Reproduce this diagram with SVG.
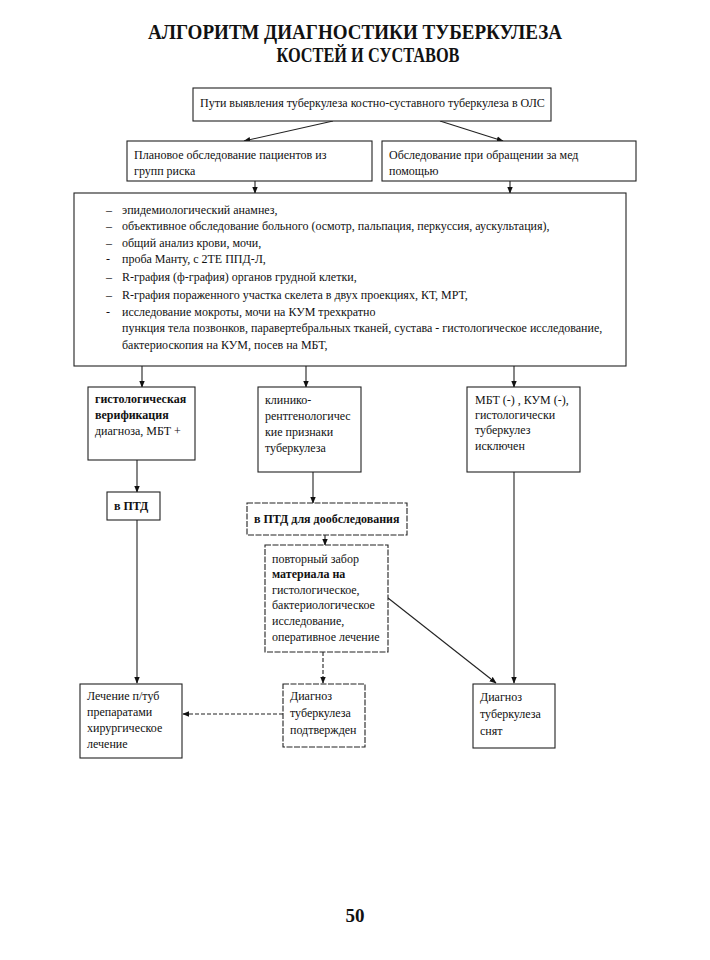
<svg xmlns="http://www.w3.org/2000/svg" width="710" height="960" viewBox="0 0 710 960">
<defs>
<marker id="ah" viewBox="0 0 10 10" refX="9" refY="5" markerWidth="7" markerHeight="7" orient="auto" markerUnits="userSpaceOnUse">
<path d="M0,1 L10,5 L0,9 z" fill="#111"/>
</marker>
</defs>
<style>
.bx{fill:#fff;stroke:#222;stroke-width:1.1}
.dbx{fill:#fff;stroke:#222;stroke-width:1.1;stroke-dasharray:6 1.5}
.t{font-family:"Liberation Serif","Times New Roman",serif;font-size:12px;fill:#111}
.tb{font-family:"Liberation Serif","Times New Roman",serif;font-size:12px;fill:#111;font-weight:bold}
.ttl{font-family:"Liberation Serif","Times New Roman",serif;font-size:20px;font-weight:bold;fill:#111}
.ln{stroke:#222;stroke-width:1.1;fill:none}
.dln{stroke:#222;stroke-width:1.1;fill:none;stroke-dasharray:4 2}
</style>
<rect width="710" height="960" fill="#fff"/>
<g id="title">
<text class="ttl" x="355" y="39" text-anchor="middle" textLength="414" lengthAdjust="spacingAndGlyphs">АЛГОРИТМ ДИАГНОСТИКИ ТУБЕРКУЛЕЗА</text>
<text class="ttl" x="368" y="62" text-anchor="middle" textLength="183" lengthAdjust="spacingAndGlyphs">КОСТЕЙ И СУСТАВОВ</text>
</g>
<g id="connectors">
<line class="ln" x1="333" y1="121" x2="244" y2="141" marker-end="url(#ah)"/>
<line class="ln" x1="440" y1="121" x2="503" y2="141" marker-end="url(#ah)"/>
<line class="ln" x1="255" y1="181" x2="255" y2="193" marker-end="url(#ah)"/>
<line class="ln" x1="510" y1="181" x2="510" y2="193" marker-end="url(#ah)"/>
<line class="ln" x1="142" y1="366" x2="142" y2="387" marker-end="url(#ah)"/>
<line class="ln" x1="306" y1="366" x2="306" y2="387" marker-end="url(#ah)"/>
<line class="ln" x1="514" y1="366" x2="514" y2="387" marker-end="url(#ah)"/>
<line class="ln" x1="137" y1="460" x2="137" y2="492" marker-end="url(#ah)"/>
<line class="ln" x1="313" y1="472" x2="313" y2="503" marker-end="url(#ah)"/>
<line class="ln" x1="325" y1="535" x2="325" y2="545" marker-end="url(#ah)"/>
<line class="ln" x1="137" y1="520" x2="137" y2="683" marker-end="url(#ah)"/>
<line class="dln" x1="323" y1="652" x2="323" y2="683" marker-end="url(#ah)"/>
<line class="ln" x1="388" y1="598" x2="496" y2="683" marker-end="url(#ah)"/>
<line class="ln" x1="514" y1="472" x2="514" y2="683" marker-end="url(#ah)"/>
<line class="dln" x1="283" y1="714" x2="183" y2="714" marker-end="url(#ah)"/>
</g>
<g id="n1">
<rect class="bx" x="193" y="88" width="358" height="33"/>
<text class="t" x="200" y="107">Пути выявления туберкулеза костно-суставного туберкулеза в ОЛС</text>
</g>
<g id="n2">
<rect class="bx" x="127" y="141" width="245" height="40"/>
<text class="t" x="134" y="159">Плановое обследование пациентов из</text>
<text class="t" x="134" y="175">групп риска</text>
</g>
<g id="n3">
<rect class="bx" x="382" y="141" width="254" height="40"/>
<text class="t" x="389" y="159">Обследование при обращении за мед</text>
<text class="t" x="389" y="175">помощью</text>
</g>
<g id="n4">
<rect class="bx" x="74" y="193" width="552" height="173"/>
<text class="t" x="106" y="214">–</text>
<text class="t" x="122" y="214">эпидемиологический анамнез,</text>
<text class="t" x="106" y="230">–</text>
<text class="t" x="122" y="230">объективное обследование больного (осмотр, пальпация, перкуссия, аускультация),</text>
<text class="t" x="106" y="247">–</text>
<text class="t" x="122" y="247">общий анализ крови, мочи,</text>
<text class="t" x="106" y="263">-</text>
<text class="t" x="122" y="263">проба Манту, с 2ТЕ ППД-Л,</text>
<text class="t" x="106" y="281">–</text>
<text class="t" x="122" y="281">R-графия (ф-графия) органов грудной клетки,</text>
<text class="t" x="106" y="299">–</text>
<text class="t" x="122" y="299">R-графия пораженного участка скелета в двух проекциях, КТ, МРТ,</text>
<text class="t" x="106" y="316">-</text>
<text class="t" x="122" y="316">исследование мокроты, мочи на КУМ трехкратно</text>
<text class="t" x="122" y="332">пункция тела позвонков, паравертебральных тканей, сустава - гистологическое исследование,</text>
<text class="t" x="122" y="349">бактериоскопия на КУМ, посев на МБТ,</text>
</g>
<g id="n5">
<rect class="bx" x="88" y="387" width="107" height="73"/>
<text class="tb" x="95" y="403">гистологическая</text>
<text class="tb" x="95" y="419">верификация</text>
<text class="t" x="95" y="435">диагноза, МБТ +</text>
</g>
<g id="n6">
<rect class="bx" x="258" y="387" width="103" height="85"/>
<text class="t" x="265" y="404">клинико-</text>
<text class="t" x="265" y="420">рентгенологичес</text>
<text class="t" x="265" y="436">кие признаки</text>
<text class="t" x="265" y="452">туберкулеза</text>
</g>
<g id="n7">
<rect class="bx" x="467" y="387" width="113" height="85"/>
<text class="t" x="475" y="404">МБТ (-) , КУМ (-),</text>
<text class="t" x="475" y="419">гистологически</text>
<text class="t" x="475" y="434">туберкулез</text>
<text class="t" x="475" y="450">исключен</text>
</g>
<g id="n8">
<rect class="bx" x="107" y="492" width="53" height="28"/>
<text class="tb" x="114" y="510">в ПТД</text>
</g>
<g id="n9">
<rect class="dbx" x="247" y="503" width="160" height="32"/>
<text class="tb" x="254" y="523">в ПТД для дообследования</text>
</g>
<g id="n10">
<rect class="dbx" x="265" y="545" width="123" height="107"/>
<text class="t" x="272" y="563">повторный забор</text>
<text class="tb" x="272" y="578">материала на</text>
<text class="t" x="272" y="594">гистологическое,</text>
<text class="t" x="272" y="609">бактериологическое</text>
<text class="t" x="272" y="625">исследование,</text>
<text class="t" x="272" y="641">оперативное лечение</text>
</g>
<g id="n11">
<rect class="bx" x="80" y="684" width="102" height="74"/>
<text class="t" x="87" y="700">Лечение п/туб</text>
<text class="t" x="87" y="716">препаратами</text>
<text class="t" x="87" y="732">хирургическое</text>
<text class="t" x="87" y="748">лечение</text>
</g>
<g id="n12">
<rect class="dbx" x="283" y="684" width="82" height="63"/>
<text class="t" x="290" y="700">Диагноз</text>
<text class="t" x="290" y="717">туберкулеза</text>
<text class="t" x="290" y="734">подтвержден</text>
</g>
<g id="n13">
<rect class="bx" x="473" y="684" width="82" height="64"/>
<text class="t" x="480" y="701">Диагноз</text>
<text class="t" x="480" y="718">туберкулеза</text>
<text class="t" x="480" y="735">снят</text>
</g>
<text x="355" y="922" text-anchor="middle" style="font-family:'Liberation Serif','Times New Roman',serif;font-size:19px;font-weight:bold;fill:#111">50</text>
</svg>
